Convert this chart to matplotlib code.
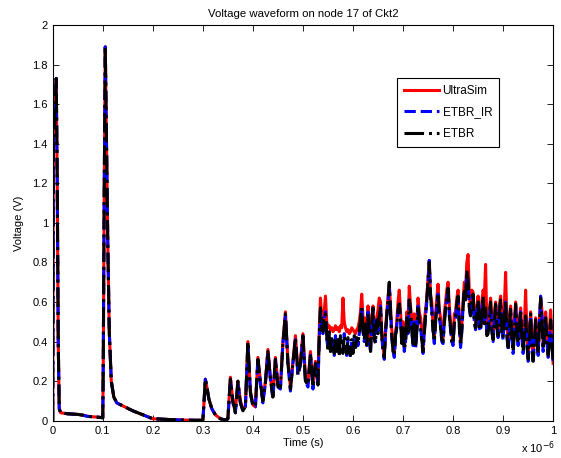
import numpy as np
import matplotlib
matplotlib.use("Agg")
import matplotlib.pyplot as plt
from matplotlib.ticker import FuncFormatter, MultipleLocator

plt.rcParams['font.family'] = ['Liberation Sans', 'DejaVu Sans']

### data (time in ns, voltage in V)
# shared start of the waveform (all three methods overlap here)
t_early = [0, 1, 2, 4, 6, 7, 9, 11, 13, 16, 30, 50, 60, 70, 90, 100,
           101, 103, 105, 107, 110, 113, 117, 122, 128, 140, 160, 180, 200,
           250, 290, 300, 302, 305, 308, 312, 318, 325, 335, 345]
v_early = [0.0, 1.2, 1.58, 1.5, 1.65, 1.73, 1.2, 0.4, 0.06, 0.04, 0.035, 0.032,
           0.028, 0.022, 0.018, 0.015, 0.3, 1.2, 1.89, 1.5, 0.9, 0.45, 0.2,
           0.12, 0.09, 0.075, 0.05, 0.03, 0.01, 0.004, 0.002, 0.003, 0.08,
           0.21, 0.17, 0.11, 0.06, 0.03, 0.01, 0.003]

# 350..525 ns every 5 ns, then 530..1000 ns every 2.5 ns
t_noisy = list(range(350, 530, 5)) + list(np.arange(530, 1000.1, 2.5))

ultrasim = [0.01, 0.22, 0.10, 0.05, 0.20, 0.10, 0.06, 0.07, 0.40, 0.15,
            0.08, 0.07, 0.32, 0.20, 0.10, 0.20, 0.36, 0.22, 0.12, 0.32,
            0.18, 0.17, 0.40, 0.55, 0.30, 0.17, 0.30, 0.43, 0.25, 0.30,
            0.44, 0.22, 0.19, 0.35, 0.18, 0.30,
            0.20, 0.45, 0.62, 0.52, 0.50, 0.55, 0.63, 0.50, 0.47, 0.48,
            0.46, 0.47, 0.45, 0.46, 0.48, 0.46, 0.47, 0.45, 0.48, 0.47,
            0.62, 0.50, 0.47, 0.45, 0.46, 0.44, 0.45, 0.47, 0.46, 0.45,
            0.44, 0.46, 0.47, 0.50, 0.55, 0.64, 0.52, 0.45, 0.52, 0.42,
            0.58, 0.50, 0.40, 0.52, 0.58, 0.46, 0.45, 0.52, 0.56, 0.62,
            0.60, 0.45, 0.38, 0.32, 0.46, 0.55, 0.62, 0.69, 0.58, 0.46,
            0.40, 0.33, 0.44, 0.50, 0.60, 0.66, 0.55, 0.44, 0.50, 0.38,
            0.42, 0.55, 0.48, 0.68, 0.58, 0.50, 0.42, 0.54, 0.40, 0.48,
            0.62, 0.55, 0.52, 0.44, 0.36, 0.50, 0.56, 0.62, 0.72, 0.81,
            0.64, 0.60, 0.48, 0.42, 0.54, 0.62, 0.69, 0.56, 0.52, 0.44,
            0.42, 0.54, 0.60, 0.66, 0.70, 0.58, 0.50, 0.44, 0.40, 0.54,
            0.55, 0.62, 0.66, 0.52, 0.40, 0.48, 0.60, 0.70, 0.66, 0.80,
            0.84, 0.64, 0.56, 0.66, 0.65, 0.52, 0.50, 0.58, 0.63, 0.50,
            0.48, 0.60, 0.66, 0.62, 0.79, 0.48, 0.46, 0.56, 0.62, 0.50,
            0.44, 0.54, 0.60, 0.52, 0.45, 0.58, 0.63, 0.50, 0.45, 0.58,
            0.75, 0.50, 0.40, 0.52, 0.58, 0.46, 0.37, 0.48, 0.60, 0.50,
            0.42, 0.50, 0.57, 0.46, 0.38, 0.48, 0.66, 0.44, 0.33, 0.45,
            0.55, 0.42, 0.31, 0.43, 0.52, 0.46, 0.35, 0.50, 0.62, 0.56,
            0.38, 0.46, 0.55, 0.44, 0.34, 0.46, 0.56, 0.42, 0.29]

etbr_ir = [0.01, 0.21, 0.09, 0.04, 0.19, 0.09, 0.05, 0.07, 0.39, 0.14,
           0.07, 0.07, 0.31, 0.19, 0.09, 0.19, 0.35, 0.21, 0.11, 0.31,
           0.17, 0.16, 0.39, 0.53, 0.29, 0.15, 0.29, 0.41, 0.23, 0.28,
           0.42, 0.20, 0.17, 0.33, 0.16, 0.28,
           0.18, 0.40, 0.56, 0.48, 0.44, 0.52, 0.55, 0.42, 0.36, 0.44,
           0.34, 0.42, 0.38, 0.33, 0.43, 0.36, 0.40, 0.34, 0.42, 0.37,
           0.35, 0.44, 0.39, 0.33, 0.41, 0.36, 0.32, 0.40, 0.35, 0.42,
           0.36, 0.43, 0.38, 0.44, 0.50, 0.58, 0.46, 0.40, 0.48, 0.38,
           0.55, 0.44, 0.34, 0.48, 0.56, 0.42, 0.40, 0.50, 0.45, 0.52,
           0.58, 0.42, 0.36, 0.31, 0.44, 0.52, 0.60, 0.69, 0.55, 0.42,
           0.36, 0.32, 0.42, 0.48, 0.55, 0.60, 0.50, 0.40, 0.46, 0.35,
           0.40, 0.52, 0.44, 0.62, 0.55, 0.46, 0.38, 0.50, 0.36, 0.44,
           0.58, 0.50, 0.48, 0.40, 0.34, 0.45, 0.52, 0.60, 0.70, 0.81,
           0.62, 0.56, 0.45, 0.39, 0.50, 0.58, 0.64, 0.52, 0.48, 0.40,
           0.39, 0.50, 0.56, 0.62, 0.66, 0.54, 0.46, 0.40, 0.38, 0.50,
           0.52, 0.60, 0.62, 0.48, 0.37, 0.45, 0.58, 0.66, 0.62, 0.75,
           0.70, 0.58, 0.52, 0.62, 0.63, 0.50, 0.46, 0.55, 0.60, 0.47,
           0.45, 0.56, 0.62, 0.50, 0.56, 0.44, 0.43, 0.52, 0.59, 0.46,
           0.40, 0.50, 0.58, 0.48, 0.42, 0.55, 0.60, 0.45, 0.41, 0.52,
           0.60, 0.44, 0.36, 0.48, 0.56, 0.42, 0.34, 0.45, 0.58, 0.46,
           0.38, 0.48, 0.55, 0.42, 0.34, 0.44, 0.52, 0.40, 0.30, 0.42,
           0.53, 0.38, 0.29, 0.40, 0.50, 0.42, 0.33, 0.48, 0.63, 0.52,
           0.35, 0.44, 0.52, 0.40, 0.32, 0.42, 0.50, 0.38, 0.30]

etbr = [0.01, 0.21, 0.10, 0.04, 0.20, 0.09, 0.05, 0.07, 0.40, 0.14,
        0.08, 0.07, 0.31, 0.19, 0.10, 0.19, 0.35, 0.21, 0.12, 0.31,
        0.17, 0.17, 0.39, 0.54, 0.29, 0.16, 0.29, 0.42, 0.23, 0.29,
        0.43, 0.20, 0.18, 0.34, 0.17, 0.29,
        0.18, 0.42, 0.57, 0.47, 0.45, 0.53, 0.54, 0.43, 0.35, 0.45,
        0.35, 0.43, 0.37, 0.34, 0.42, 0.35, 0.41, 0.33, 0.43, 0.36,
        0.34, 0.43, 0.40, 0.34, 0.42, 0.35, 0.33, 0.41, 0.34, 0.43,
        0.37, 0.42, 0.39, 0.45, 0.51, 0.57, 0.45, 0.41, 0.49, 0.37,
        0.54, 0.45, 0.35, 0.49, 0.57, 0.41, 0.39, 0.51, 0.44, 0.53,
        0.57, 0.43, 0.35, 0.32, 0.45, 0.53, 0.61, 0.70, 0.54, 0.43,
        0.35, 0.33, 0.43, 0.47, 0.56, 0.59, 0.51, 0.39, 0.47, 0.36,
        0.39, 0.53, 0.45, 0.61, 0.56, 0.45, 0.39, 0.49, 0.37, 0.45,
        0.57, 0.51, 0.47, 0.41, 0.35, 0.44, 0.53, 0.61, 0.71, 0.80,
        0.63, 0.55, 0.46, 0.40, 0.49, 0.59, 0.63, 0.53, 0.47, 0.41,
        0.40, 0.49, 0.57, 0.61, 0.67, 0.53, 0.47, 0.39, 0.39, 0.49,
        0.53, 0.59, 0.63, 0.47, 0.38, 0.46, 0.57, 0.67, 0.61, 0.76,
        0.71, 0.57, 0.53, 0.61, 0.64, 0.49, 0.47, 0.54, 0.61, 0.46,
        0.46, 0.55, 0.63, 0.49, 0.57, 0.43, 0.44, 0.51, 0.60, 0.45,
        0.41, 0.49, 0.59, 0.47, 0.43, 0.54, 0.61, 0.44, 0.42, 0.51,
        0.61, 0.43, 0.37, 0.47, 0.57, 0.41, 0.35, 0.44, 0.59, 0.45,
        0.39, 0.47, 0.56, 0.41, 0.35, 0.43, 0.53, 0.39, 0.31, 0.41,
        0.54, 0.37, 0.30, 0.39, 0.51, 0.41, 0.34, 0.47, 0.62, 0.51,
        0.36, 0.43, 0.53, 0.39, 0.33, 0.41, 0.51, 0.37, 0.31]

t = np.array(t_early + t_noisy, dtype=float) / 1000.0   # in units of 1e-6 s

fig = plt.figure(figsize=(5.61, 4.58), dpi=100)
ax = fig.add_axes([0.094, 0.0814, 0.892, 0.864])

lw = 2.2
ax.plot(t, v_early + ultrasim, color='r', lw=lw, ls='-', label='UltraSim')
ax.plot(t, v_early + etbr_ir, color='b', lw=lw, ls='--', label='ETBR_IR')
ax.plot(t, v_early + etbr, color='k', lw=lw, ls='-.', label='ETBR')

ax.set_xlim(0, 1)
ax.set_ylim(0, 2)
ax.xaxis.set_major_locator(MultipleLocator(0.1))
ax.yaxis.set_major_locator(MultipleLocator(0.2))
fmt = FuncFormatter(lambda v, p: '%g' % round(v, 2))
ax.xaxis.set_major_formatter(fmt)
ax.yaxis.set_major_formatter(fmt)
ax.tick_params(direction='in', top=True, right=True, length=4, width=0.6,
               labelsize=8)
for s in ax.spines.values():
    s.set_linewidth(0.8)

ax.set_title('Voltage waveform on node 17 of Ckt2', fontsize=8.2, pad=6)
ax.set_xlabel('Time (s)', fontsize=8, labelpad=2)
ax.set_ylabel('Voltage (V)', fontsize=8, labelpad=6)
fig.text(0.928, 0.012, r'x 10$^{-6}$', fontsize=8)

leg = ax.legend(loc='upper left', bbox_to_anchor=(0.687, 0.866), fontsize=8.5,
                fancybox=False, edgecolor='k', framealpha=1,
                handlelength=3.0, borderpad=0.6, labelspacing=0.8,
                handletextpad=0.3, borderaxespad=0)
leg.get_frame().set_linewidth(0.8)

fig.savefig('out.png', dpi=100)
